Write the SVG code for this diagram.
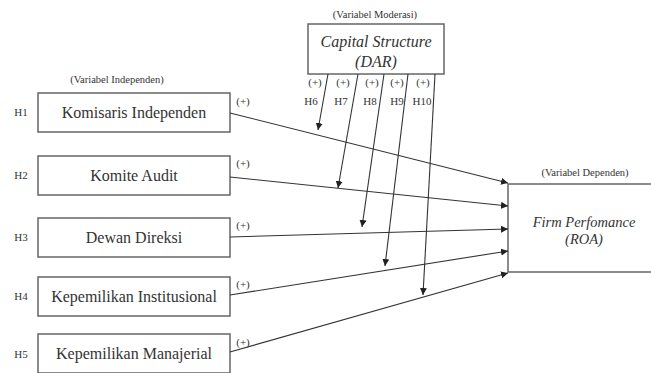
<svg xmlns="http://www.w3.org/2000/svg" width="651" height="373" viewBox="0 0 651 373">
<defs>
<style>
.box{fill:#fff;stroke:#666;stroke-width:1.5}
.t{font-family:'Liberation Serif','Times New Roman','DejaVu Serif',serif;fill:#333;text-anchor:middle}
.lbl{font-size:16px}
.it{font-style:italic}
.sm{font-size:10.5px}
.h{font-size:11px}
.c{stroke:#333;stroke-width:1.1;fill:none;marker-end:url(#ah)}
</style>
<marker id="ah" viewBox="0 0 10 10" refX="10" refY="5" markerWidth="7" markerHeight="7" markerUnits="userSpaceOnUse" orient="auto">
<path d="M0,0 L10,5 L0,10 z" fill="#222"/>
</marker>
</defs>
<rect width="651" height="373" fill="#fff"/>

<g id="moderator">
<text class="t sm" x="375" y="18">(Variabel Moderasi)</text>
<rect class="box" x="308" y="24" width="136" height="50"/>
<text class="t lbl it" x="376" y="47">Capital Structure</text>
<text class="t lbl it" x="376" y="67">(DAR)</text>
</g>

<g id="ind-title"><text class="t sm" x="117" y="83">(Variabel Independen)</text></g>

<g id="n1">
<text class="t h" x="21" y="116">H1</text>
<rect class="box" x="38" y="93" width="192" height="39"/>
<text class="t lbl" x="134" y="118">Komisaris Independen</text>
<text class="t h" x="243" y="105">(+)</text>
</g>
<g id="n2">
<text class="t h" x="21" y="179">H2</text>
<rect class="box" x="38" y="156" width="192" height="39"/>
<text class="t lbl" x="134" y="181">Komite Audit</text>
<text class="t h" x="243" y="167">(+)</text>
</g>
<g id="n3">
<text class="t h" x="21" y="241">H3</text>
<rect class="box" x="38" y="218" width="192" height="39"/>
<text class="t lbl" x="134" y="243">Dewan Direksi</text>
<text class="t h" x="243" y="229">(+)</text>
</g>
<g id="n4">
<text class="t h" x="21" y="300">H4</text>
<rect class="box" x="38" y="277" width="192" height="39"/>
<text class="t lbl" x="134" y="302">Kepemilikan Institusional</text>
<text class="t h" x="243" y="288">(+)</text>
</g>
<g id="n5">
<text class="t h" x="21" y="358">H5</text>
<rect class="box" x="38" y="334" width="192" height="39"/>
<text class="t lbl" x="134" y="359">Kepemilikan Manajerial</text>
<text class="t h" x="243" y="346">(+)</text>
</g>

<g id="dependent">
<text class="t sm" x="585" y="176">(Variabel Dependen)</text>
<rect class="box" x="508" y="184" width="160" height="88"/>
<text class="t it" x="584" y="227" style="font-size:14.5px">Firm Perfomance</text>
<text class="t it" x="584" y="244" style="font-size:14.5px">(ROA)</text>
</g>

<g id="mod-labels">
<text class="t h" x="315" y="86">(+)</text>
<text class="t h" x="343" y="86">(+)</text>
<text class="t h" x="372" y="86">(+)</text>
<text class="t h" x="397" y="86">(+)</text>
<text class="t h" x="423" y="86">(+)</text>
<text class="t h" x="311" y="105">H6</text>
<text class="t h" x="341" y="105">H7</text>
<text class="t h" x="370" y="105">H8</text>
<text class="t h" x="397" y="105">H9</text>
<text class="t h" x="422" y="105">H10</text>
</g>

<g id="connectors">
<line class="c" x1="230" y1="113" x2="508" y2="183"/>
<line class="c" x1="230" y1="177" x2="508" y2="206"/>
<line class="c" x1="230" y1="237" x2="508" y2="229"/>
<line class="c" x1="230" y1="295" x2="508" y2="251"/>
<line class="c" x1="230" y1="352" x2="508" y2="273"/>
<line class="c" x1="328" y1="74" x2="318" y2="130"/>
<line class="c" x1="358" y1="74" x2="338" y2="188"/>
<line class="c" x1="384" y1="74" x2="362" y2="227"/>
<line class="c" x1="408" y1="74" x2="385" y2="266"/>
<line class="c" x1="435" y1="74" x2="423" y2="295"/>
</g>
</svg>
